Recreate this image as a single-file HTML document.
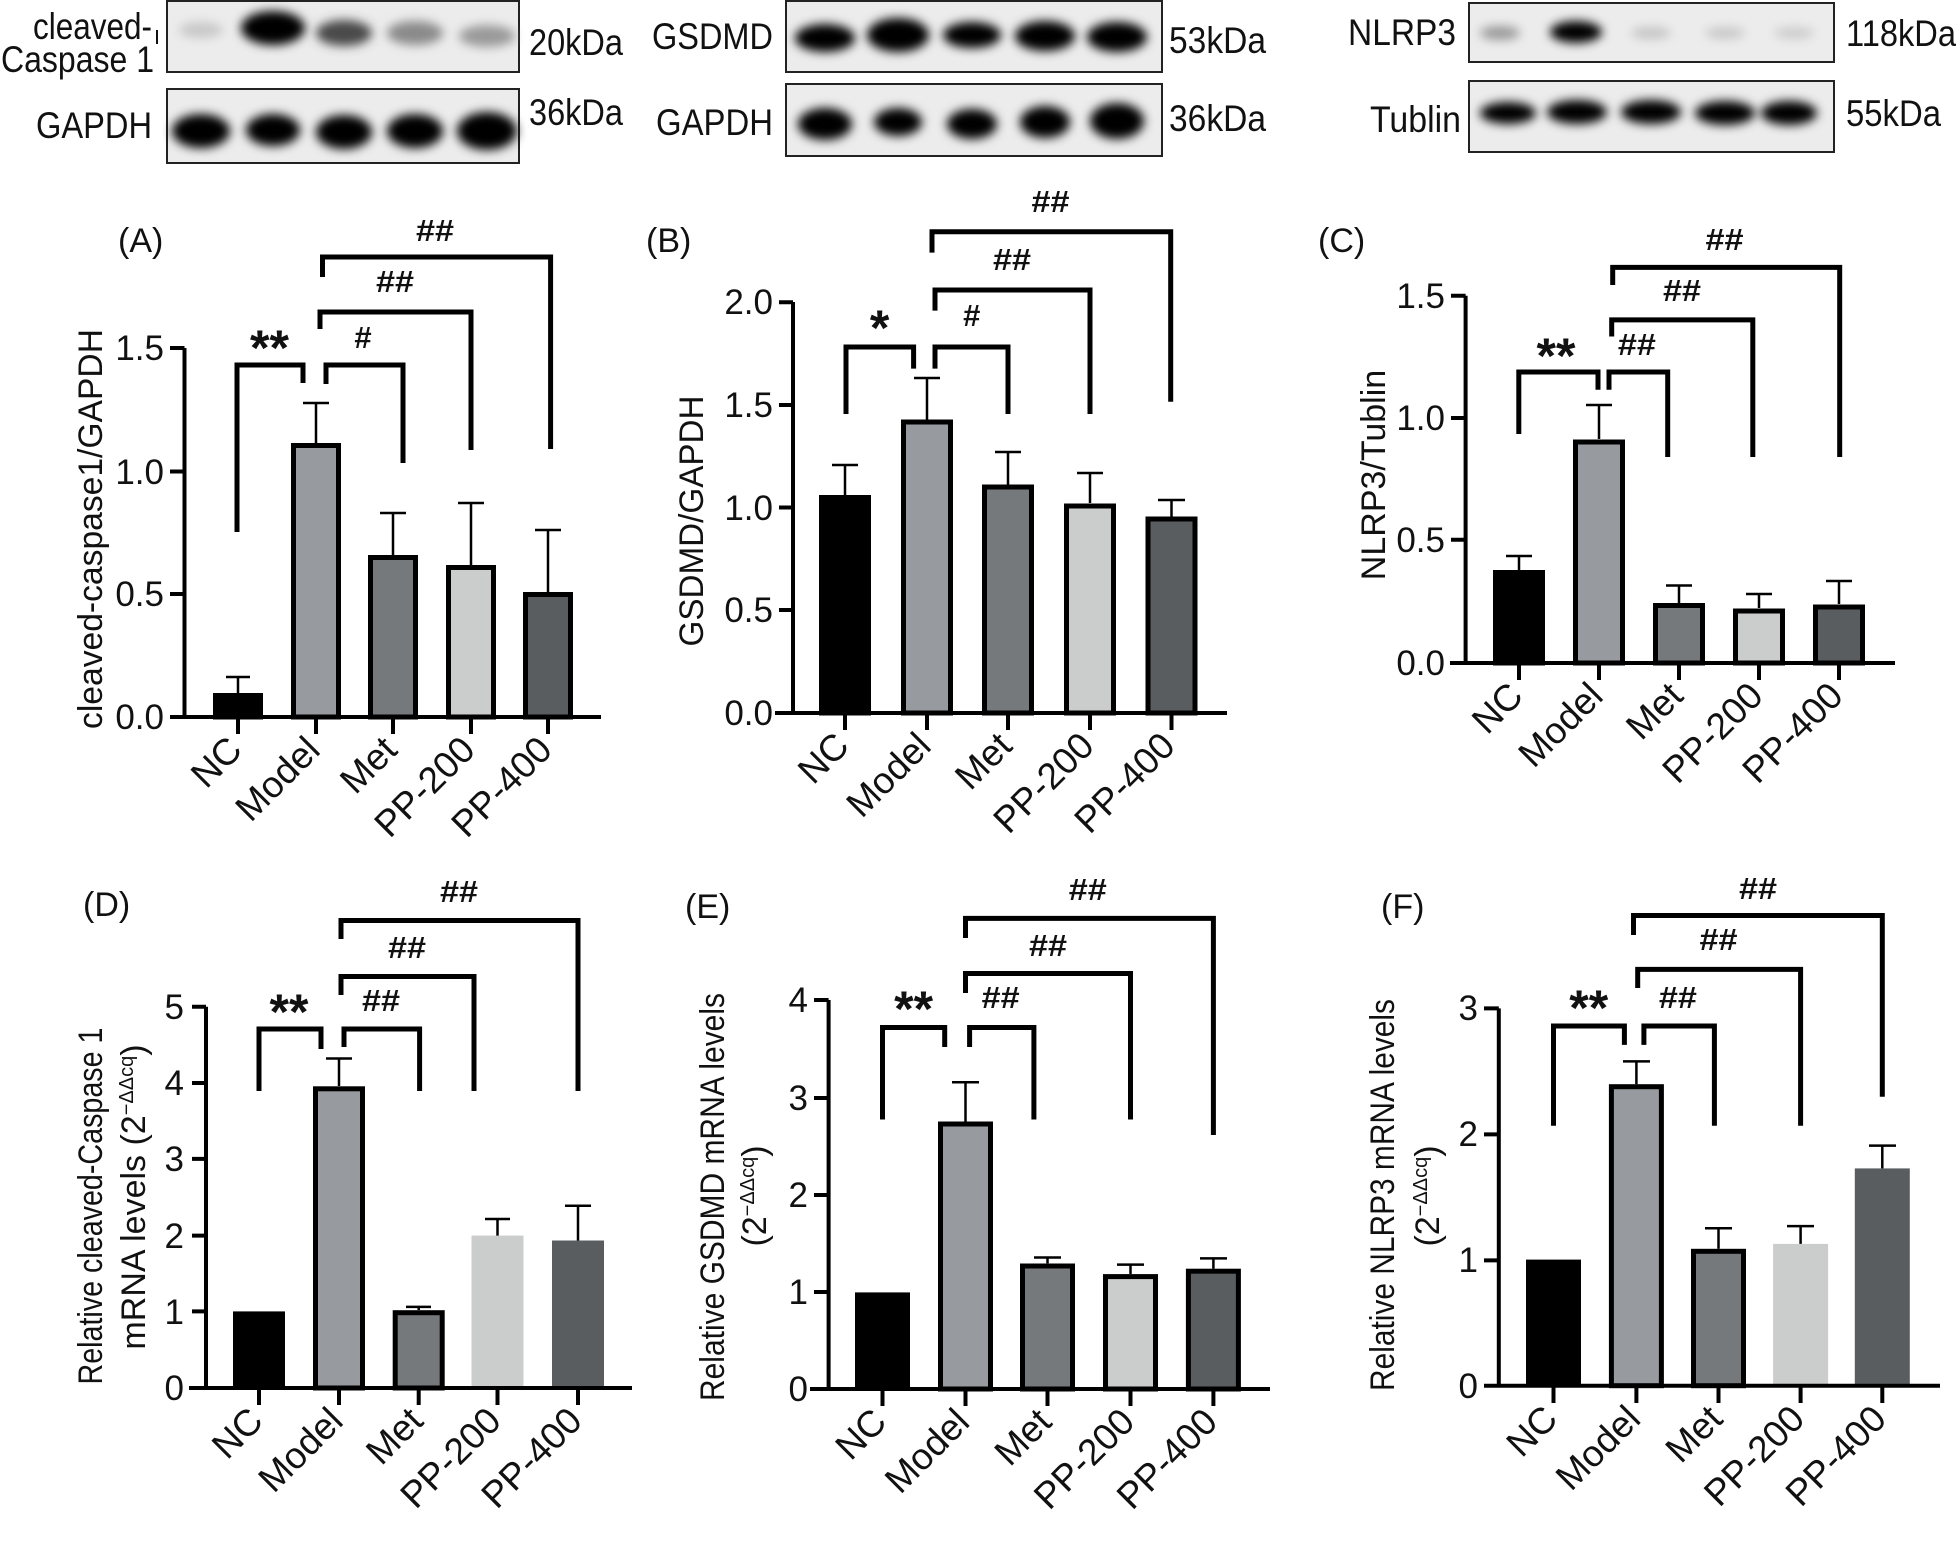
<!DOCTYPE html>
<html><head><meta charset="utf-8"><style>
html,body{margin:0;padding:0;background:#fff;}
svg{display:block;}
text{font-family:"Liberation Sans",Arial,sans-serif;fill:#111;}
.t{font-size:35px;}
.xl{font-size:37px;}
.yl{font-size:34px;}
.pl{font-size:34px;}
.ast{font-size:50px;font-weight:bold;}
.hs{font-size:31px;font-weight:bold;}
.bl{font-size:37px;}
.br{fill:none;stroke:#000;stroke-width:5;stroke-linejoin:miter;}
.ax{stroke:#000;stroke-width:4;fill:none;}
.eb{stroke:#000;stroke-width:2.5;fill:none;}
</style></head><body>
<svg width="1956" height="1566" viewBox="0 0 1956 1566" xmlns="http://www.w3.org/2000/svg">
<defs><filter id="bl" x="-30%" y="-60%" width="160%" height="220%"><feGaussianBlur stdDeviation="5"/></filter></defs>

<!-- BLOTS -->
<rect x="167" y="1" width="352" height="71" fill="#ececec" stroke="#222" stroke-width="2"/>
<g filter="url(#bl)">
<ellipse cx="201" cy="30" rx="22" ry="8" fill="#c8c8c8"/>
<ellipse cx="273" cy="28" rx="32" ry="17" fill="#000"/>
<ellipse cx="344" cy="33" rx="28" ry="13" fill="#4a4a4a"/>
<ellipse cx="415" cy="33" rx="28" ry="12" fill="#8a8a8a"/>
<ellipse cx="487" cy="36" rx="28" ry="11" fill="#9a9a9a"/>
</g>
<rect x="167" y="89" width="352" height="74" fill="#ececec" stroke="#222" stroke-width="2"/>
<g filter="url(#bl)" fill="#000">
<ellipse cx="201" cy="131" rx="29" ry="17"/><ellipse cx="273" cy="130" rx="27" ry="16"/><ellipse cx="344" cy="132" rx="28" ry="17"/><ellipse cx="415" cy="131" rx="28" ry="17"/><ellipse cx="487" cy="131" rx="30" ry="19"/>
</g>
<text class="bl" x="33" y="39" textLength="119" lengthAdjust="spacingAndGlyphs">cleaved-</text>
<line x1="157" y1="30" x2="157" y2="44" stroke="#111" stroke-width="2"/>
<text class="bl" x="1" y="72" textLength="153" lengthAdjust="spacingAndGlyphs">Caspase 1</text>
<text class="bl" x="36" y="138" textLength="116" lengthAdjust="spacingAndGlyphs">GAPDH</text>
<text class="bl" x="529" y="55" textLength="94" lengthAdjust="spacingAndGlyphs">20kDa</text>
<text class="bl" x="529" y="125" textLength="94" lengthAdjust="spacingAndGlyphs">36kDa</text>

<rect x="786" y="1" width="376" height="71" fill="#ececec" stroke="#222" stroke-width="2"/>
<g filter="url(#bl)" fill="#000">
<ellipse cx="825" cy="38" rx="30" ry="14"/><ellipse cx="898" cy="35" rx="31" ry="17"/><ellipse cx="972" cy="35" rx="29" ry="13"/><ellipse cx="1045" cy="36" rx="30" ry="15"/><ellipse cx="1117" cy="37" rx="30" ry="15"/>
</g>
<rect x="786" y="84" width="376" height="72" fill="#ececec" stroke="#222" stroke-width="2"/>
<g filter="url(#bl)" fill="#000">
<ellipse cx="825" cy="124" rx="27" ry="16"/><ellipse cx="898" cy="122" rx="24" ry="14"/><ellipse cx="972" cy="124" rx="25" ry="15"/><ellipse cx="1045" cy="122" rx="25" ry="16"/><ellipse cx="1117" cy="121" rx="27" ry="18"/>
</g>
<text class="bl" x="773" y="49" text-anchor="end" textLength="121" lengthAdjust="spacingAndGlyphs">GSDMD</text>
<text class="bl" x="773" y="135" text-anchor="end" textLength="117" lengthAdjust="spacingAndGlyphs">GAPDH</text>
<text class="bl" x="1169" y="53" textLength="97" lengthAdjust="spacingAndGlyphs">53kDa</text>
<text class="bl" x="1169" y="131" textLength="97" lengthAdjust="spacingAndGlyphs">36kDa</text>

<rect x="1469" y="3" width="365" height="59" fill="#ececec" stroke="#222" stroke-width="2"/>
<g filter="url(#bl)">
<ellipse cx="1500" cy="33" rx="20" ry="7" fill="#9a9a9a"/>
<ellipse cx="1576" cy="32" rx="26" ry="11" fill="#000"/>
<ellipse cx="1651" cy="33" rx="20" ry="6" fill="#c4c4c4"/>
<ellipse cx="1725" cy="33" rx="20" ry="6" fill="#c8c8c8"/>
<ellipse cx="1794" cy="33" rx="20" ry="6" fill="#cccccc"/>
</g>
<rect x="1469" y="81" width="365" height="71" fill="#ececec" stroke="#222" stroke-width="2"/>
<g filter="url(#bl)" fill="#000">
<ellipse cx="1508" cy="113" rx="28" ry="11"/><ellipse cx="1577" cy="112" rx="30" ry="12"/><ellipse cx="1651" cy="112" rx="30" ry="12"/><ellipse cx="1725" cy="113" rx="30" ry="12"/><ellipse cx="1789" cy="113" rx="28" ry="12"/>
</g>
<text class="bl" x="1456" y="45" text-anchor="end" textLength="108" lengthAdjust="spacingAndGlyphs">NLRP3</text>
<text class="bl" x="1461" y="132" text-anchor="end" textLength="91" lengthAdjust="spacingAndGlyphs">Tublin</text>
<text class="bl" x="1846" y="46" textLength="110" lengthAdjust="spacingAndGlyphs">118kDa</text>
<text class="bl" x="1846" y="126" textLength="95" lengthAdjust="spacingAndGlyphs">55kDa</text>

<!-- PANEL A -->
<text class="pl" x="118" y="252">(A)</text>
<text class="yl" transform="translate(102,529) rotate(-90)" text-anchor="middle" textLength="400" lengthAdjust="spacingAndGlyphs">cleaved-caspase1/GAPDH</text>
<g>
<rect x="215.5" y="695.5" width="45" height="21.5" fill="#000" stroke="#000" stroke-width="5"/>
<rect x="293.5" y="445.5" width="45" height="271.5" fill="#979a9e" stroke="#000" stroke-width="5"/>
<rect x="370.5" y="557.5" width="45" height="159.5" fill="#76797c" stroke="#000" stroke-width="5"/>
<rect x="448.5" y="567.5" width="45" height="149.5" fill="#cbcdcc" stroke="#000" stroke-width="5"/>
<rect x="525.5" y="594.5" width="45" height="122.5" fill="#5a5d5f" stroke="#000" stroke-width="5"/>
<path class="eb" d="M238,693V677M226,677H250M316,443V403M303,403H329M393,555V513M380,513H406M471,565V503M458,503H484M548,592V530M535,530H561"/>
</g>
<path class="ax" d="M184.5,348V719M170,717H601M170,348H184.5M170,471.5H184.5M170,594H184.5M238,717V734M316,717V734M393,717V734M471,717V734M548,717V734"/>
<text class="t" x="164" y="360" text-anchor="end">1.5</text>
<text class="t" x="164" y="484" text-anchor="end">1.0</text>
<text class="t" x="164" y="606" text-anchor="end">0.5</text>
<text class="t" x="164" y="729" text-anchor="end">0.0</text>
<text class="xl" text-anchor="end" transform="translate(244,752) rotate(-45)">NC</text>
<text class="xl" text-anchor="end" transform="translate(322,752) rotate(-45)">Model</text>
<text class="xl" text-anchor="end" transform="translate(399,752) rotate(-45)">Met</text>
<text class="xl" text-anchor="end" transform="translate(477,752) rotate(-45)">PP-200</text>
<text class="xl" text-anchor="end" transform="translate(554,752) rotate(-45)">PP-400</text>
<path class="br" d="M237,532V365H303V383M326,384V365H403V463M320,329V312H471V450M322.5,277V257H550.6V449"/>
<text class="ast" x="269.5" y="365" text-anchor="middle">**</text>
<text class="hs" x="363" y="348" text-anchor="middle">#</text>
<text class="hs" x="395" y="292" text-anchor="middle" textLength="38" lengthAdjust="spacingAndGlyphs">##</text>
<text class="hs" x="435" y="241" text-anchor="middle" textLength="38" lengthAdjust="spacingAndGlyphs">##</text>

<!-- PANEL B -->
<text class="pl" x="646" y="252">(B)</text>
<text class="yl" transform="translate(703,521) rotate(-90)" text-anchor="middle" textLength="251" lengthAdjust="spacingAndGlyphs">GSDMD/GAPDH</text>
<rect x="821.5" y="497.5" width="47" height="215.5" fill="#000" stroke="#000" stroke-width="5"/>
<rect x="903.5" y="422" width="47" height="291" fill="#979a9e" stroke="#000" stroke-width="5"/>
<rect x="984.5" y="487" width="47" height="226" fill="#76797c" stroke="#000" stroke-width="5"/>
<rect x="1066.5" y="506" width="47" height="207" fill="#cbcdcc" stroke="#000" stroke-width="5"/>
<rect x="1148" y="519" width="47" height="194" fill="#5a5d5f" stroke="#000" stroke-width="5"/>
<path class="eb" d="M845,495V465M832,465H858M927,420V378M914,378H940M1008,485V452M995,452H1021M1090,503V473M1077,473H1103M1171.5,517V500M1158,500H1185"/>
<path class="ax" d="M793,302V715M775,713H1227M779,302.3H793M779,405H793M779,507.5H793M779,610H793M845,713V730M927,713V730M1008,713V730M1090,713V730M1171.5,713V730"/>
<text class="t" x="773" y="314" text-anchor="end">2.0</text>
<text class="t" x="773" y="417" text-anchor="end">1.5</text>
<text class="t" x="773" y="520" text-anchor="end">1.0</text>
<text class="t" x="773" y="622" text-anchor="end">0.5</text>
<text class="t" x="773" y="725" text-anchor="end">0.0</text>
<text class="xl" text-anchor="end" transform="translate(851,748) rotate(-45)">NC</text>
<text class="xl" text-anchor="end" transform="translate(933,748) rotate(-45)">Model</text>
<text class="xl" text-anchor="end" transform="translate(1014,748) rotate(-45)">Met</text>
<text class="xl" text-anchor="end" transform="translate(1096,748) rotate(-45)">PP-200</text>
<text class="xl" text-anchor="end" transform="translate(1177,748) rotate(-45)">PP-400</text>
<path class="br" d="M846,414V347H913.6V368.6M935,368.6V347H1008V414M935,310.6V290H1090V414M932,252.6V231.8H1170.7V401.8"/>
<text class="ast" x="879.6" y="345" text-anchor="middle">*</text>
<text class="hs" x="971.7" y="326" text-anchor="middle">#</text>
<text class="hs" x="1012" y="270" text-anchor="middle" textLength="38" lengthAdjust="spacingAndGlyphs">##</text>
<text class="hs" x="1050.5" y="212" text-anchor="middle" textLength="38" lengthAdjust="spacingAndGlyphs">##</text>

<!-- PANEL C -->
<text class="pl" x="1318" y="252">(C)</text>
<text class="yl" transform="translate(1385,475) rotate(-90)" text-anchor="middle">NLRP3/Tublin</text>
<rect x="1495.5" y="572.5" width="47" height="90.5" fill="#000" stroke="#000" stroke-width="5"/>
<rect x="1575.5" y="442" width="47" height="221" fill="#979a9e" stroke="#000" stroke-width="5"/>
<rect x="1655.5" y="605.5" width="47" height="57.5" fill="#76797c" stroke="#000" stroke-width="5"/>
<rect x="1735.5" y="611" width="47" height="52" fill="#cbcdcc" stroke="#000" stroke-width="5"/>
<rect x="1815.5" y="607" width="47" height="56" fill="#5a5d5f" stroke="#000" stroke-width="5"/>
<path class="eb" d="M1519,570V556M1506,556H1532M1599,439V405M1586,405H1612M1679,603V585.5M1666,585.5H1692M1759,608V594M1746,594H1772M1839,604V581M1826,581H1852"/>
<path class="ax" d="M1465.6,295.7V665M1450,663H1895M1451,295.7H1465.6M1451,418H1465.6M1451,539.7H1465.6M1519,663V680M1599,663V680M1679,663V680M1759,663V680M1839,663V680"/>
<text class="t" x="1445" y="308" text-anchor="end">1.5</text>
<text class="t" x="1445" y="430" text-anchor="end">1.0</text>
<text class="t" x="1445" y="552" text-anchor="end">0.5</text>
<text class="t" x="1445" y="675" text-anchor="end">0.0</text>
<text class="xl" text-anchor="end" transform="translate(1525,698) rotate(-45)">NC</text>
<text class="xl" text-anchor="end" transform="translate(1605,698) rotate(-45)">Model</text>
<text class="xl" text-anchor="end" transform="translate(1685,698) rotate(-45)">Met</text>
<text class="xl" text-anchor="end" transform="translate(1765,698) rotate(-45)">PP-200</text>
<text class="xl" text-anchor="end" transform="translate(1845,698) rotate(-45)">PP-400</text>
<path class="br" d="M1518.8,434V372H1598V389.7M1609,389.7V372H1667.7V457M1611.7,336.5V319.9H1752.8V457M1612.7,285V267.4H1839.7V457"/>
<text class="ast" x="1556" y="373" text-anchor="middle">**</text>
<text class="hs" x="1636.9" y="355" text-anchor="middle" textLength="38" lengthAdjust="spacingAndGlyphs">##</text>
<text class="hs" x="1682" y="301" text-anchor="middle" textLength="38" lengthAdjust="spacingAndGlyphs">##</text>
<text class="hs" x="1724.5" y="250" text-anchor="middle" textLength="38" lengthAdjust="spacingAndGlyphs">##</text>

<!-- PANEL D -->
<text class="pl" x="83" y="916">(D)</text>
<text class="yl" transform="translate(102,1206) rotate(-90)" text-anchor="middle" textLength="357" lengthAdjust="spacingAndGlyphs">Relative cleaved-Caspase 1</text>
<text class="yl" transform="translate(145,1197) rotate(-90)" text-anchor="middle">mRNA levels (2<tspan font-size="20" dy="-12">−ΔΔcq</tspan><tspan dy="12">)</tspan></text>
<rect x="233" y="1311.4" width="52" height="76.6" fill="#000"/>
<rect x="315.5" y="1088.8" width="47" height="299.2" fill="#979a9e" stroke="#000" stroke-width="5"/>
<rect x="395.2" y="1312.7" width="47" height="75.3" fill="#76797c" stroke="#000" stroke-width="5"/>
<rect x="471.5" y="1235.6" width="52" height="152.4" fill="#cbcdcc"/>
<rect x="552" y="1240.5" width="52" height="147.5" fill="#5a5d5f"/>
<path class="eb" d="M339,1086V1058.5M326,1058.5H352M418.7,1310V1306.9M406,1306.9H431M497.5,1235.6V1219M485,1219H510M578,1240.5V1205.7M565,1205.7H591"/>
<path class="ax" d="M206,1006.7V1390M189,1388H632M192,1006.7H206M192,1083H206M192,1158.9H206M192,1235.6H206M192,1311.4H206M259,1388V1405M339,1388V1405M418.7,1388V1405M497.5,1388V1405M578,1388V1405"/>
<text class="t" x="184" y="1019" text-anchor="end">5</text>
<text class="t" x="184" y="1095" text-anchor="end">4</text>
<text class="t" x="184" y="1171" text-anchor="end">3</text>
<text class="t" x="184" y="1248" text-anchor="end">2</text>
<text class="t" x="184" y="1324" text-anchor="end">1</text>
<text class="t" x="184" y="1400" text-anchor="end">0</text>
<text class="xl" text-anchor="end" transform="translate(265,1423) rotate(-45)">NC</text>
<text class="xl" text-anchor="end" transform="translate(345,1423) rotate(-45)">Model</text>
<text class="xl" text-anchor="end" transform="translate(425,1423) rotate(-45)">Met</text>
<text class="xl" text-anchor="end" transform="translate(503,1423) rotate(-45)">PP-200</text>
<text class="xl" text-anchor="end" transform="translate(584,1423) rotate(-45)">PP-400</text>
<path class="br" d="M259,1091V1029H321V1049M344,1047V1029H419.6V1091M341,995V976.5H474V1091M341,939V920.5H578V1091"/>
<text class="ast" x="289" y="1029" text-anchor="middle">**</text>
<text class="hs" x="381" y="1011" text-anchor="middle" textLength="38" lengthAdjust="spacingAndGlyphs">##</text>
<text class="hs" x="407" y="958" text-anchor="middle" textLength="38" lengthAdjust="spacingAndGlyphs">##</text>
<text class="hs" x="459" y="902" text-anchor="middle" textLength="38" lengthAdjust="spacingAndGlyphs">##</text>

<!-- PANEL E -->
<text class="pl" x="685" y="918">(E)</text>
<text class="yl" transform="translate(724,1197) rotate(-90)" text-anchor="middle" textLength="408" lengthAdjust="spacingAndGlyphs">Relative GSDMD mRNA levels</text>
<text class="yl" transform="translate(766,1196) rotate(-90)" text-anchor="middle">(2<tspan font-size="20" dy="-12">−ΔΔcq</tspan><tspan dy="12">)</tspan></text>
<rect x="855" y="1292.4" width="55" height="96.6" fill="#000"/>
<rect x="940.5" y="1124" width="50" height="265" fill="#979a9e" stroke="#000" stroke-width="5"/>
<rect x="1022.5" y="1266" width="50" height="123" fill="#76797c" stroke="#000" stroke-width="5"/>
<rect x="1105.5" y="1276.6" width="50" height="112.4" fill="#cbcdcc" stroke="#000" stroke-width="5"/>
<rect x="1188.4" y="1271.2" width="50" height="117.8" fill="#5a5d5f" stroke="#000" stroke-width="5"/>
<path class="eb" d="M965.5,1121.6V1082.2M952,1082.2H979M1047.5,1263.4V1257.5M1034,1257.5H1061M1130.5,1274V1264.6M1117,1264.6H1144M1213.4,1268.7V1258.4M1200,1258.4H1227"/>
<path class="ax" d="M828.6,1000V1391M810,1389H1270M814,1000H828.6M814,1098H828.6M814,1195H828.6M814,1292H828.6M882.5,1389V1406M965.5,1389V1406M1047.5,1389V1406M1130.5,1389V1406M1213.4,1389V1406"/>
<text class="t" x="808" y="1012" text-anchor="end">4</text>
<text class="t" x="808" y="1110" text-anchor="end">3</text>
<text class="t" x="808" y="1207" text-anchor="end">2</text>
<text class="t" x="808" y="1304" text-anchor="end">1</text>
<text class="t" x="808" y="1401" text-anchor="end">0</text>
<text class="xl" text-anchor="end" transform="translate(888.5,1424) rotate(-45)">NC</text>
<text class="xl" text-anchor="end" transform="translate(971.5,1424) rotate(-45)">Model</text>
<text class="xl" text-anchor="end" transform="translate(1053.5,1424) rotate(-45)">Met</text>
<text class="xl" text-anchor="end" transform="translate(1136.5,1424) rotate(-45)">PP-200</text>
<text class="xl" text-anchor="end" transform="translate(1219.4,1424) rotate(-45)">PP-400</text>
<path class="br" d="M882.5,1119.5V1027.5H944.7V1047M969.6,1047V1027.5H1033.9V1119.5M965.5,993V973.5H1130.5V1119.5M965.5,938V918.4H1213.4V1135"/>
<text class="ast" x="913.6" y="1026" text-anchor="middle">**</text>
<text class="hs" x="1000.7" y="1008" text-anchor="middle" textLength="38" lengthAdjust="spacingAndGlyphs">##</text>
<text class="hs" x="1048" y="956" text-anchor="middle" textLength="38" lengthAdjust="spacingAndGlyphs">##</text>
<text class="hs" x="1087.8" y="900" text-anchor="middle" textLength="38" lengthAdjust="spacingAndGlyphs">##</text>

<!-- PANEL F -->
<text class="pl" x="1381" y="918">(F)</text>
<text class="yl" transform="translate(1394,1195) rotate(-90)" text-anchor="middle" textLength="392" lengthAdjust="spacingAndGlyphs">Relative NLRP3 mRNA levels</text>
<text class="yl" transform="translate(1439,1196) rotate(-90)" text-anchor="middle">(2<tspan font-size="20" dy="-12">−ΔΔcq</tspan><tspan dy="12">)</tspan></text>
<rect x="1526" y="1259.6" width="55" height="126.1" fill="#000"/>
<rect x="1611.4" y="1086.7" width="50" height="299" fill="#979a9e" stroke="#000" stroke-width="5"/>
<rect x="1693.5" y="1251.3" width="50" height="134.4" fill="#76797c" stroke="#000" stroke-width="5"/>
<rect x="1773.1" y="1243.9" width="55" height="141.8" fill="#cbcdcc"/>
<rect x="1854.8" y="1168.4" width="55" height="217.3" fill="#5a5d5f"/>
<path class="eb" d="M1636.4,1084.2V1061.4M1623,1061.4H1650M1718.5,1248.8V1228.2M1705,1228.2H1732M1800.6,1243.9V1226.1M1787,1226.1H1814M1882.3,1168.4V1145.6M1869,1145.6H1896"/>
<path class="ax" d="M1498.8,1008.4V1387.7M1484,1385.7H1940M1484,1008.4H1498.8M1484,1134.4H1498.8M1484,1260.4H1498.8M1553.5,1385.7V1403M1636.4,1385.7V1403M1718.5,1385.7V1403M1800.6,1385.7V1403M1882.3,1385.7V1403"/>
<text class="t" x="1478" y="1020" text-anchor="end">3</text>
<text class="t" x="1478" y="1146" text-anchor="end">2</text>
<text class="t" x="1478" y="1272" text-anchor="end">1</text>
<text class="t" x="1478" y="1398" text-anchor="end">0</text>
<text class="xl" text-anchor="end" transform="translate(1559.5,1421) rotate(-45)">NC</text>
<text class="xl" text-anchor="end" transform="translate(1642.4,1421) rotate(-45)">Model</text>
<text class="xl" text-anchor="end" transform="translate(1724.5,1421) rotate(-45)">Met</text>
<text class="xl" text-anchor="end" transform="translate(1806.6,1421) rotate(-45)">PP-200</text>
<text class="xl" text-anchor="end" transform="translate(1888.3,1421) rotate(-45)">PP-400</text>
<path class="br" d="M1553.5,1125.7V1026H1624.4V1044.9M1643.9,1044.9V1026H1714.4V1125.7M1637.7,988V969.4H1800.6V1125.7M1633.5,935V915.5H1882.3V1096.7"/>
<text class="ast" x="1588.7" y="1025" text-anchor="middle">**</text>
<text class="hs" x="1677.9" y="1008" text-anchor="middle" textLength="38" lengthAdjust="spacingAndGlyphs">##</text>
<text class="hs" x="1718.5" y="950" text-anchor="middle" textLength="38" lengthAdjust="spacingAndGlyphs">##</text>
<text class="hs" x="1758" y="899" text-anchor="middle" textLength="38" lengthAdjust="spacingAndGlyphs">##</text>
</svg>
</body></html>
